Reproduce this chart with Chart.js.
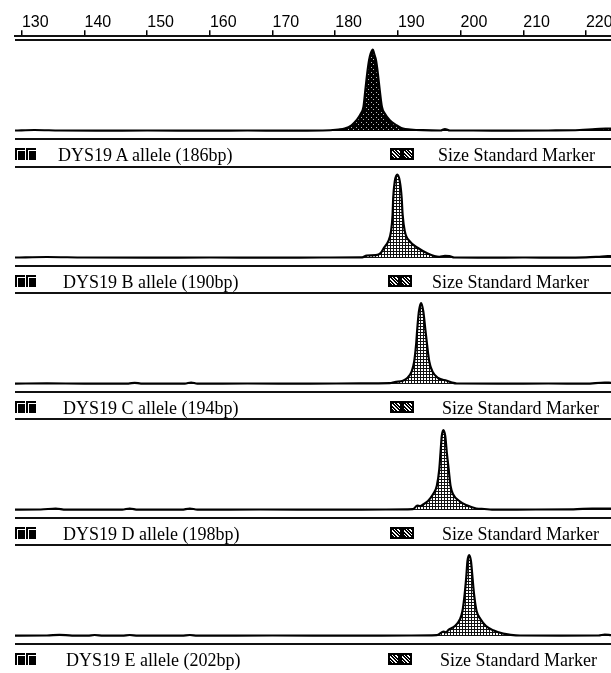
<!DOCTYPE html>
<html>
<head>
<meta charset="utf-8">
<script src="https://cdn.jsdelivr.net/npm/chart.js@4.4.0/dist/chart.umd.min.js"></script>
<style>
body { margin: 0; background: #fff; width: 611px; height: 673px; overflow: hidden; position: relative; font-family: "Liberation Serif", serif; }
.box { position: absolute; }
.rule { position: absolute; left: 15px; right: 0; height: 2px; background: #111; }
.lbl { position: absolute; font-size: 18px; color: #000; line-height: 20px; white-space: nowrap; }
.kb { position: absolute; width: 10px; height: 12px; background: #000; }
.kb:after { content: ""; position: absolute; left: 2px; top: 2px; width: 8px; height: 10px; border-left: 1px solid #fff; border-top: 1px solid #fff; }
.sq { position: absolute; width: 8px; height: 8px; border: 2px solid #000; background: repeating-linear-gradient(45deg, #000 0 1.5px, #fff 1.5px 2.5px); }
</style>
</head>
<body>
<div class="box" style="left:0;top:0;width:641px;height:90px"><canvas id="axis"></canvas></div>
<script>
// size axis (bp)
const tickLabels = [130, 140, 150, 160, 170, 180, 190, 200, 210, 220];
const alleleNames = ['DYS19 A allele (186bp)', 'DYS19 B allele (190bp)', 'DYS19 C allele (194bp)',
  'DYS19 D allele (198bp)', 'DYS19 E allele (202bp)'];
const markerLabel = 'Size Standard Marker';

// traces: size in bp, signal height
const bpA = [128.9, 132, 136, 142, 150, 160, 166, 172, 178, 180.5, 181.5, 182.6, 183.4, 184.1, 184.5, 184.8, 185.1, 185.4, 185.65, 186.0,
  186.2, 186.5, 186.8, 187.1, 187.45, 187.9, 188.7, 189.8, 190.8, 192, 194, 196.8, 197.5, 198.3, 202, 208, 214, 219, 221.5, 224];
const rfuA = [0.5, 1, 0.5, 0.3, 0.5, 0.3, 0.5, 0.3, 0.5, 1.5, 2.4, 5.7, 10.7, 17.4, 24, 40.7, 57.4, 70.7, 77.4, 81.4,
  77.4, 70.7, 57.4, 40.7, 24, 17.4, 10.7, 5.7, 2.4, 1.5, 0.8, 0.5, 2, 0.5, 0.5, 0.3, 0.5, 1, 2, 2.5];

const bpB = [128.9, 134, 140, 150, 160, 170, 178, 184.3, 185.0, 186.5, 187.25, 187.75, 188.45, 188.9, 189.15, 189.25, 189.5, 189.9,
  190.3, 190.6, 190.75, 191.1, 191.9, 193.2, 194.6, 196.6, 197.5, 198.2, 199, 204, 210, 216, 220, 222.5, 224];
const rfuB = [0.5, 1, 0.5, 0.4, 0.5, 0.4, 0.5, 0.6, 2.5, 2.8, 5, 10, 16.6, 26.6, 43.3, 60, 76.6, 83.3,
  76.6, 60, 43.3, 26.6, 16.6, 10, 5, 1.2, 2.2, 2, 0.5, 0.4, 0.5, 0.4, 0.6, 1.5, 2];

const bpC = [128.9, 134, 140, 147, 148, 149, 156, 157, 158, 166, 176, 184, 188.7, 189.5, 190.8, 191.5, 192.2, 192.6, 192.9, 193.1,
  193.35, 193.7, 194.05, 194.35, 194.65, 195, 195.5, 196.4, 197.8, 198.6, 199.4, 206, 214, 220, 223, 224];
const rfuC = [0.4, 0.6, 0.4, 0.4, 1.2, 0.4, 0.4, 1.5, 0.4, 0.5, 0.4, 0.6, 0.8, 2, 3.3, 6, 12.6, 22.6, 39.3, 56,
  72.6, 81, 72.6, 56, 39.3, 22.6, 12.6, 6, 3.3, 1.5, 0.5, 0.4, 0.5, 0.4, 1.5, 1.2];

const bpD = [128.9, 133, 135.4, 137, 146, 147.2, 148.5, 155.5, 156.8, 158, 168, 180, 188, 192.4, 193.1, 193.5, 193.9, 194.8, 195.6, 196.2,
  196.6, 196.8, 197.0, 197.25, 197.55, 197.8, 198.1, 198.4, 198.8, 199.8, 201, 202.5, 203.8, 205, 212, 218, 221, 224];
const rfuD = [0.4, 0.5, 1.5, 0.4, 0.4, 1.5, 0.4, 0.4, 1.5, 0.4, 0.5, 0.4, 0.5, 0.8, 4.5, 3.8, 5, 9, 15.7, 24,
  40.7, 57.4, 74, 80, 74, 57.4, 40.7, 24, 15.7, 9, 4.7, 1.5, 1, 0.4, 0.5, 0.6, 1.5, 1.5];

const bpE = [128.9, 134, 136, 138, 140.5, 141.6, 143, 146, 147.2, 148.5, 155.5, 156.8, 158, 170, 182, 192, 196.2, 197.3, 197.7, 198.0,
  199.1, 199.9, 200.3, 200.65, 200.9, 201.1, 201.37, 201.65, 201.9, 202.15, 202.55, 203.2, 204.05, 205.2, 206.8, 208, 209.5, 216, 222, 223, 224];
const rfuE = [0.4, 0.5, 1.2, 0.4, 0.4, 1, 0.4, 0.4, 1, 0.4, 0.4, 1, 0.4, 0.5, 0.4, 0.5, 0.8, 4.5, 3.5, 5.7,
  10, 16.7, 25, 41.7, 58.4, 75, 81, 75, 58.4, 41.7, 25, 16.7, 10, 5.7, 2.4, 1.2, 0.5, 0.4, 0.5, 1.5, 0.8];

const traces = [[bpA, rfuA], [bpB, rfuB], [bpC, rfuC], [bpD, rfuD], [bpE, rfuE]];

const xMin = 128.9, xMax = 224;
const pxPerBp = 596 / (xMax - xMin);

// page layout
const baseY = [131, 258, 384, 510, 636];
const nameX = [58, 63, 63, 63, 66];
const iconX = [390, 388, 390, 390, 388];
const markX = [438, 432, 442, 442, 440];

function makePattern(dark) {
  const c = document.createElement('canvas');
  const g = c.getContext('2d');
  if (dark) {
    c.width = c.height = 5;
    g.fillStyle = '#000'; g.fillRect(0, 0, 5, 5);
    g.fillStyle = '#bbb'; g.fillRect(1, 2, 1, 1); g.fillRect(3, 4, 1, 1);
  } else {
    c.width = c.height = 3;
    g.fillStyle = '#fff'; g.fillRect(0, 0, 3, 3);
    g.fillStyle = '#111'; g.fillRect(0, 0, 3, 1); g.fillRect(0, 0, 1, 3);
  }
  return g.createPattern(c, 'repeat');
}

function addEl(cls, css, text) {
  const d = document.createElement('div');
  d.className = cls;
  d.style.cssText = css;
  if (text) d.textContent = text;
  document.body.appendChild(d);
  return d;
}

// top size axis (canvas is 30px wider than the page so the last label never squeezes the scale)
new Chart(document.getElementById('axis'), {
  type: 'line',
  data: { datasets: [] },
  options: {
    animation: false,
    responsive: true,
    maintainAspectRatio: false,
    layout: { padding: { left: 15, right: 0, top: 15, bottom: 0 } },
    plugins: { legend: { display: false }, tooltip: { enabled: false } },
    scales: {
      x: {
        type: 'linear', position: 'top', min: xMin, max: xMax + 30 / pxPerBp,
        afterBuildTicks: s => { s.ticks = tickLabels.map(v => ({ value: v })); },
        ticks: { color: '#000', font: { family: 'Liberation Sans', size: 16 }, padding: -2, align: 'start', maxRotation: 0, autoSkip: false },
        grid: { drawOnChartArea: false, drawTicks: true, tickLength: 6, color: '#000', lineWidth: 1.5 },
        border: { display: true, color: '#111', width: 2 }
      },
      y: { display: false, min: 0, max: 1 }
    }
  }
});

traces.forEach(([bp, rfu], i) => {
  const b = baseY[i];
  addEl('rule', 'top:' + (b - 92) + 'px');
  const wrap = addEl('box', 'left:15px;top:' + (b - 91) + 'px;width:596px;height:99px');
  const cv = document.createElement('canvas');
  wrap.appendChild(cv);
  addEl('rule', 'top:' + (b + 7) + 'px');

  const mid = b + 24;
  addEl('kb', 'left:15px;top:' + (mid - 7) + 'px');
  addEl('kb', 'left:26px;top:' + (mid - 7) + 'px');
  addEl('lbl', 'left:' + nameX[i] + 'px;top:' + (mid - 10) + 'px', alleleNames[i]);
  addEl('sq', 'left:' + iconX[i] + 'px;top:' + (mid - 7) + 'px');
  addEl('sq', 'left:' + (iconX[i] + 12) + 'px;top:' + (mid - 7) + 'px');
  addEl('lbl', 'left:' + markX[i] + 'px;top:' + (mid - 10) + 'px', markerLabel);

  new Chart(cv, {
    type: 'line',
    data: {
      datasets: [{
        data: bp.map((x, k) => ({ x: x, y: rfu[k] })),
        borderColor: '#000',
        borderWidth: 2.2,
        pointRadius: 0,
        fill: 'origin',
        backgroundColor: makePattern(i === 0),
        cubicInterpolationMode: 'monotone'
      }]
    },
    options: {
      animation: false,
      responsive: true,
      maintainAspectRatio: false,
      layout: { padding: 0 },
      plugins: { legend: { display: false }, tooltip: { enabled: false } },
      scales: {
        x: { type: 'linear', min: xMin, max: xMax, display: false },
        y: { min: -8, max: 91, display: false }
      }
    }
  });
});
</script>
</body>
</html>
